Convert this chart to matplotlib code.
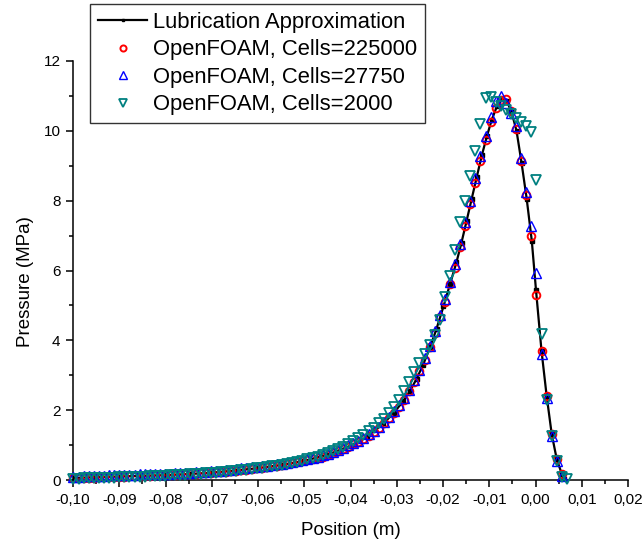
import numpy as np
import matplotlib
matplotlib.use("Agg")
import matplotlib.pyplot as plt
from matplotlib.ticker import FuncFormatter, MultipleLocator

plt.rcParams['font.family'] = ['Liberation Sans', 'DejaVu Sans']

# === Data ===
lube_x = [-0.100, -0.095, -0.090, -0.085, -0.080, -0.075, -0.070, -0.065, -0.060, -0.055,
          -0.050, -0.045, -0.040, -0.0365, -0.0329, -0.0307, -0.0286, -0.0271, -0.0257, -0.0243,
          -0.0228, -0.0214, -0.0199, -0.0185, -0.0171, -0.0160, -0.0149, -0.0138, -0.0127, -0.0116,
          -0.0105, -0.0095, -0.0083, -0.0072, -0.0062, -0.0052, -0.0041, -0.0030, -0.0019, -0.0008,
          0.0001, 0.0013, 0.0024, 0.0035, 0.0046, 0.0057, 0.0062]
lube_p = [0.06, 0.08, 0.10, 0.12, 0.14, 0.17, 0.21, 0.27, 0.34, 0.43,
          0.55, 0.72, 0.98, 1.22, 1.62, 1.91, 2.26, 2.56, 2.90, 3.30,
          3.80, 4.33, 4.97, 5.60, 6.23, 6.80, 7.42, 8.05, 8.68, 9.30,
          9.85, 10.30, 10.72, 10.90, 10.85, 10.55, 10.00, 9.07, 8.05, 6.85,
          5.45, 3.70, 2.42, 1.32, 0.59, 0.17, 0.02]

# probe positions of the OpenFOAM samples (m)
pos = [-0.0999, -0.0988, -0.0977, -0.0966, -0.0955, -0.0944, -0.0933, -0.0922, -0.0911, -0.0900,
       -0.0889, -0.0878, -0.0867, -0.0856, -0.0845, -0.0834, -0.0823, -0.0812, -0.0801, -0.0790,
       -0.0779, -0.0768, -0.0757, -0.0746, -0.0735, -0.0724, -0.0713, -0.0702, -0.0691, -0.0680,
       -0.0669, -0.0658, -0.0647, -0.0636, -0.0625, -0.0614, -0.0603, -0.0592, -0.0581, -0.0570,
       -0.0559, -0.0548, -0.0537, -0.0526, -0.0515, -0.0504, -0.0493, -0.0482, -0.0471, -0.0460,
       -0.0449, -0.0438, -0.0427, -0.0416, -0.0405, -0.0394, -0.0383, -0.0372, -0.0361, -0.0350,
       -0.0339, -0.0328, -0.0317, -0.0306, -0.0295, -0.0284, -0.0273, -0.0262, -0.0251, -0.0240,
       -0.0229, -0.0218, -0.0207, -0.0196, -0.0185, -0.0174, -0.0163, -0.0152, -0.0141, -0.0130,
       -0.0119, -0.0108, -0.0097, -0.0086, -0.0075, -0.0064, -0.0053, -0.0042, -0.0031, -0.0020,
       -0.0009, 0.0002, 0.0013, 0.0024, 0.0035, 0.0046, 0.0057, 0.0068]

p_225000 = [0.06, 0.06, 0.07, 0.07, 0.07, 0.08, 0.08, 0.09, 0.09, 0.10,
            0.10, 0.11, 0.11, 0.12, 0.12, 0.12, 0.13, 0.13, 0.14, 0.14,
            0.15, 0.16, 0.16, 0.17, 0.18, 0.19, 0.20, 0.21, 0.22, 0.23,
            0.24, 0.26, 0.27, 0.29, 0.30, 0.32, 0.33, 0.35, 0.37, 0.39,
            0.41, 0.43, 0.45, 0.48, 0.51, 0.54, 0.57, 0.60, 0.63, 0.67,
            0.71, 0.76, 0.82, 0.88, 0.95, 1.02, 1.09, 1.17, 1.27, 1.37,
            1.49, 1.62, 1.77, 1.93, 2.10, 2.30, 2.54, 2.81, 3.11, 3.44,
            3.80, 4.22, 4.66, 5.10, 5.60, 6.08, 6.66, 7.28, 7.90, 8.52,
            9.15, 9.73, 10.24, 10.65, 10.88, 10.92, 10.58, 10.06, 9.15, 8.15,
            6.98, 5.30, 3.70, 2.42, 1.32, 0.59, 0.17]

p_27750 = [0.10, 0.10, 0.11, 0.11, 0.11, 0.12, 0.12, 0.13, 0.13, 0.14,
           0.14, 0.15, 0.15, 0.16, 0.16, 0.16, 0.17, 0.17, 0.18, 0.18,
           0.19, 0.20, 0.20, 0.21, 0.22, 0.23, 0.24, 0.25, 0.26, 0.27,
           0.28, 0.30, 0.31, 0.33, 0.34, 0.36, 0.37, 0.39, 0.41, 0.43,
           0.45, 0.47, 0.49, 0.52, 0.55, 0.58, 0.61, 0.64, 0.67, 0.71,
           0.75, 0.80, 0.86, 0.92, 0.99, 1.06, 1.13, 1.21, 1.31, 1.41,
           1.53, 1.66, 1.81, 1.97, 2.14, 2.34, 2.58, 2.85, 3.15, 3.48,
           3.85, 4.27, 4.72, 5.17, 5.68, 6.18, 6.76, 7.38, 8.00, 8.64,
           9.27, 9.86, 10.40, 10.85, 11.00, 10.80, 10.50, 10.15, 9.22, 8.26,
           7.28, 5.92, 3.61, 2.35, 1.25, 0.55, 0.12]

p_2000 = [0.04, 0.04, 0.05, 0.05, 0.05, 0.06, 0.06, 0.07, 0.07, 0.08,
          0.08, 0.09, 0.09, 0.10, 0.10, 0.11, 0.11, 0.12, 0.12, 0.13,
          0.14, 0.14, 0.15, 0.16, 0.17, 0.18, 0.19, 0.20, 0.21, 0.22,
          0.23, 0.25, 0.26, 0.28, 0.29, 0.31, 0.33, 0.35, 0.37, 0.39,
          0.41, 0.44, 0.46, 0.49, 0.52, 0.55, 0.59, 0.62, 0.66, 0.71,
          0.76, 0.82, 0.88, 0.95, 1.03, 1.11, 1.20, 1.29, 1.39, 1.50,
          1.62, 1.76, 1.91, 2.08, 2.30, 2.55, 2.82, 3.08, 3.35, 3.62,
          3.88, 4.15, 4.58, 5.25, 5.85, 6.60, 7.40, 7.98, 8.70, 9.42,
          10.20, 10.95, 10.98, 10.83, 10.72, 10.60, 10.49, 10.37, 10.25, 10.13,
          9.98, 8.60, 4.18, 2.29, 1.26, 0.55, 0.10, 0.04]

teal = '#008080'

# === Plot ===
fig = plt.figure(figsize=(6.44, 5.46), dpi=100)
ax = fig.add_axes([73 / 644, 66 / 546, 555 / 644, 419 / 546])

ax.plot(lube_x, lube_p, '-', color='black', lw=1.6, marker='s', ms=2.2,
        label='Lubrication Approximation', zorder=2)
ax.plot(pos[:97], p_225000, 'o', ls='none', mfc='none', mec='red', mew=1.4, ms=5.5,
        label='OpenFOAM, Cells=225000', clip_on=False, zorder=3)
ax.plot(pos[:97], p_27750, '^', ls='none', mfc='none', mec='blue', mew=1.0, ms=7,
        label='OpenFOAM, Cells=27750', clip_on=False, zorder=4)
ax.plot(pos, p_2000, 'v', ls='none', mfc='none', mec=teal, mew=1.3, ms=7,
        label='OpenFOAM, Cells=2000', clip_on=False, zorder=5)

ax.set_xlim(-0.10, 0.02)
ax.set_ylim(0, 12)
ax.xaxis.set_major_locator(MultipleLocator(0.01))
ax.xaxis.set_minor_locator(MultipleLocator(0.005))
ax.yaxis.set_major_locator(MultipleLocator(2))
ax.yaxis.set_minor_locator(MultipleLocator(1))
ax.xaxis.set_major_formatter(FuncFormatter(lambda v, _: ('%.2f' % v).replace('.', ',').replace('-0,00', '0,00')))

for s in ['top', 'right']:
    ax.spines[s].set_visible(False)
for s in ['left', 'bottom']:
    ax.spines[s].set_linewidth(1.1)
ax.tick_params(which='major', direction='out', length=5, width=1.1, labelsize=11, pad=4)
ax.tick_params(which='minor', direction='out', length=3, width=1.1)

ax.set_xlabel('Position (m)', fontsize=13.5)
ax.set_ylabel('Pressure (MPa)', fontsize=13.5)
ax.xaxis.set_label_coords(0.5, -0.100)
ax.yaxis.set_label_coords(-0.070, 0.473)

leg = fig.legend(loc='upper left', bbox_to_anchor=(90 / 644, 1 - 4 / 546),
                 fontsize=15.8, frameon=True, fancybox=False, borderpad=0.35,
                 labelspacing=0.3, handlelength=2.27, handletextpad=0.27,
                 borderaxespad=0, markerscale=0.8)
leg.get_frame().set_edgecolor('black')
leg.get_frame().set_linewidth(1.0)

plt.savefig('out.png', dpi=100)
